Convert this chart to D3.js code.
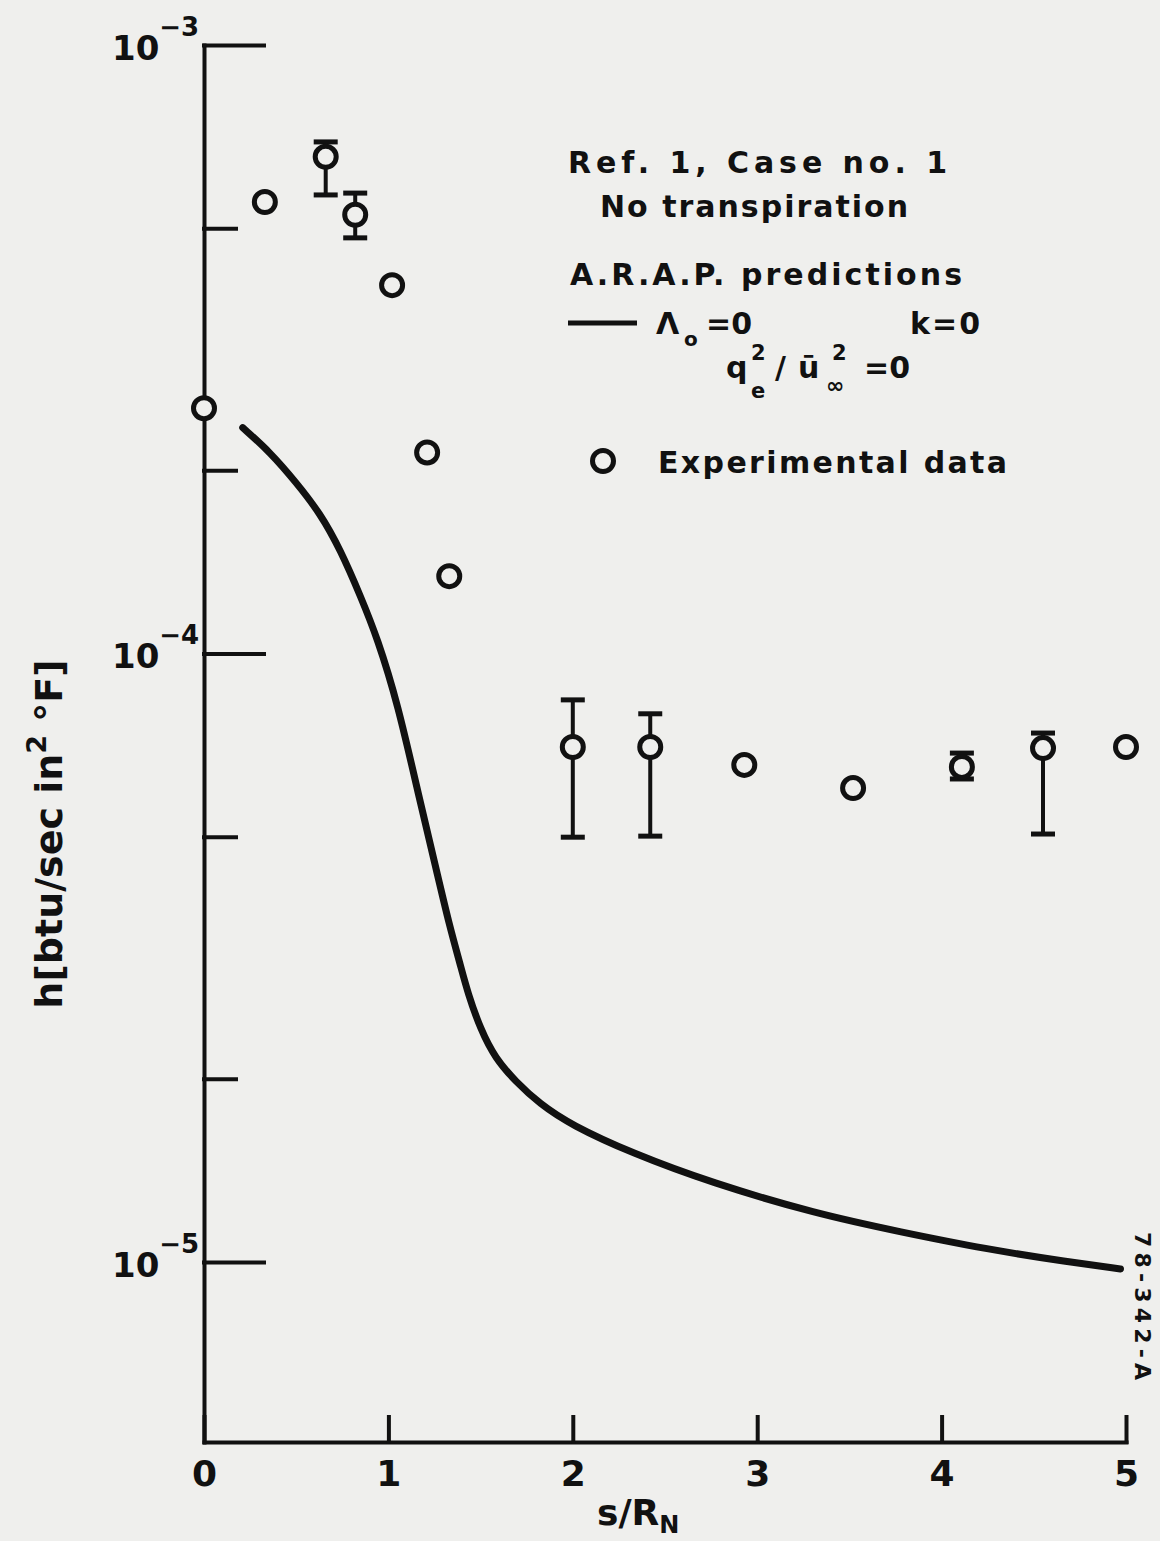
<!DOCTYPE html>
<html lang="en">
<head>
<meta charset="UTF-8">
<title>h vs s/RN - Ref. 1, Case no. 1</title>
<script src="https://d3js.org/d3.v7.min.js"></script>
<style>
  body { margin: 0; background: #efefed; }
  svg { display: block; }
  text { font-family: "DejaVu Sans", sans-serif; font-weight: bold; fill: #111; }
</style>
</head>
<body>
<script>
// experimental data (h in btu/sec in^2 F)
const expS = [0, 0.33, 0.66, 0.82, 1.02, 1.21, 1.33, 2.0, 2.42, 2.93, 3.52, 4.11, 4.55, 5.0];
const expH = [2.53e-4, 5.52e-4, 6.55e-4, 5.26e-4, 4.03e-4, 2.14e-4, 1.34e-4, 7.02e-5, 7.02e-5, 6.56e-5, 6.01e-5, 6.51e-5, 6.99e-5, 7.02e-5];

// error bars on some of the points
const errS  = [0.66, 0.82, 2.0, 2.42, 4.11, 4.55];
const errLo = [5.67e-4, 4.82e-4, 4.99e-5, 5.01e-5, 6.22e-5, 5.05e-5];
const errHi = [6.93e-4, 5.71e-4, 8.39e-5, 7.96e-5, 6.86e-5, 7.40e-5];

// A.R.A.P. prediction
const predS = [0.21, 0.36, 0.50, 0.63, 0.74, 0.85, 0.94, 1.05, 1.17, 1.26, 1.33, 1.39, 1.43, 1.50, 1.58, 1.69, 1.82, 1.99, 2.32, 2.75, 3.32, 3.78, 4.24, 4.69, 4.97];
const predH = [2.35e-4, 2.14e-4, 1.91e-4, 1.70e-4, 1.48e-4, 1.24e-4, 1.06e-4, 8.29e-5, 5.74e-5, 4.41e-5, 3.58e-5, 3.08e-5, 2.77e-5, 2.41e-5, 2.16e-5, 1.98e-5, 1.82e-5, 1.68e-5, 1.51e-5, 1.35e-5, 1.20e-5, 1.12e-5, 1.05e-5, 1.00e-5, 9.74e-6];

const xTicks = [0, 1, 2, 3, 4, 5];
const yMajor = [1e-3, 1e-4, 1e-5];
const yMajorExp = ["\u22123", "\u22124", "\u22125"];
const yMinor = [5e-4, 2e-4, 5e-5, 2e-5];

const W = 1160, H = 1541;
const ink = "#111";

const svg = d3.select("body").append("svg")
  .attr("width", W).attr("height", H);

svg.append("rect").attr("width", W).attr("height", H).attr("fill", "#efefed");

const x = d3.scaleLinear().domain([0, 5]).range([204, 1126]);
const y = d3.scaleLog().domain([5.06e-6, 1e-3]).range([1442, 45]);

// y axis: major + minor ticks pointing inward
svg.append("g").attr("transform", "translate(204,0)")
  .call(d3.axisRight(y).tickValues(yMajor).tickSizeInner(60).tickSizeOuter(0).tickFormat(""));
const yMin = svg.append("g").attr("transform", "translate(204,0)")
  .call(d3.axisRight(y).tickValues(yMinor).tickSizeInner(32).tickSizeOuter(0).tickFormat(""));
yMin.select(".domain").remove();

// x axis: ticks pointing up
const xAx = svg.append("g").attr("transform", "translate(0,1442)")
  .call(d3.axisBottom(x).tickValues(xTicks).tickSizeInner(-25).tickSizeOuter(0).tickPadding(18).tickFormat(d3.format("d")));

svg.selectAll(".domain, .tick line")
  .attr("stroke", ink).attr("stroke-width", 4).attr("stroke-linecap", "square");
xAx.selectAll(".tick text").attr("font-size", 36).attr("font-family", "DejaVu Sans").attr("font-weight", "bold").attr("fill", ink);

// y tick labels, 10^n
yMajor.forEach((v, i) => {
  const t = svg.append("text").attr("x", 112).attr("y", y(v) + 15).attr("font-size", 34);
  t.append("tspan").text("10");
  t.append("tspan").attr("dy", -24).attr("font-size", 26).text(yMajorExp[i]);
});

// axis titles
const xl = svg.append("text").attr("x", 597).attr("y", 1525).attr("font-size", 36);
xl.append("tspan").text("s/R");
xl.append("tspan").attr("dy", 8).attr("font-size", 24).text("N");

const yl = svg.append("text").attr("transform", "translate(62,834) rotate(-90)")
  .attr("text-anchor", "middle").attr("font-size", 38);
yl.append("tspan").text("h[btu/sec in");
yl.append("tspan").attr("dy", -16).attr("font-size", 27).text("2");
yl.append("tspan").attr("dy", 16).text(" \u00b0F]");

// prediction curve
const line = d3.line()
  .x((d, i) => x(predS[i]))
  .y(d => y(d))
  .curve(d3.curveBasis);
svg.append("path").datum(predH)
  .attr("d", line)
  .attr("fill", "none").attr("stroke", ink).attr("stroke-width", 7).attr("stroke-linecap", "round");

// error bars
const eb = svg.append("g").selectAll("g").data(errS).join("g");
eb.append("line")
  .attr("x1", d => x(d)).attr("x2", d => x(d))
  .attr("y1", (d, i) => y(errLo[i])).attr("y2", (d, i) => y(errHi[i]))
  .attr("stroke", ink).attr("stroke-width", 4);
eb.append("line")
  .attr("x1", d => x(d) - 12).attr("x2", d => x(d) + 12)
  .attr("y1", (d, i) => y(errLo[i])).attr("y2", (d, i) => y(errLo[i]))
  .attr("stroke", ink).attr("stroke-width", 5);
eb.append("line")
  .attr("x1", d => x(d) - 12).attr("x2", d => x(d) + 12)
  .attr("y1", (d, i) => y(errHi[i])).attr("y2", (d, i) => y(errHi[i]))
  .attr("stroke", ink).attr("stroke-width", 5);

// experimental points
svg.append("g").selectAll("circle").data(expH).join("circle")
  .attr("cx", (d, i) => x(expS[i]))
  .attr("cy", d => y(d))
  .attr("r", 10.5)
  .attr("fill", "#efefed").attr("stroke", ink).attr("stroke-width", 5);

// legend block
const lg = svg.append("g");
lg.append("text").attr("x", 568).attr("y", 173).attr("font-size", 30)
  .attr("textLength", 379).attr("lengthAdjust", "spacing").text("Ref. 1,  Case  no. 1");
lg.append("text").attr("x", 600).attr("y", 217).attr("font-size", 30)
  .attr("textLength", 308).attr("lengthAdjust", "spacing").text("No  transpiration");
lg.append("text").attr("x", 570).attr("y", 285).attr("font-size", 30)
  .attr("textLength", 392).attr("lengthAdjust", "spacing").text("A.R.A.P.  predictions");

lg.append("line").attr("x1", 568).attr("x2", 637).attr("y1", 323).attr("y2", 323)
  .attr("stroke", ink).attr("stroke-width", 5);
lg.append("text").attr("x", 656).attr("y", 334).attr("font-size", 30).text("\u039b");
lg.append("text").attr("x", 684).attr("y", 346).attr("font-size", 20).text("o");
lg.append("text").attr("x", 706).attr("y", 334).attr("font-size", 30).text("=0");
lg.append("text").attr("x", 910).attr("y", 334).attr("font-size", 30)
  .attr("textLength", 70).attr("lengthAdjust", "spacing").text("k=0");

lg.append("text").attr("x", 726).attr("y", 378).attr("font-size", 30).text("q");
lg.append("text").attr("x", 751).attr("y", 360).attr("font-size", 21).text("2");
lg.append("text").attr("x", 751).attr("y", 398).attr("font-size", 21).text("e");
lg.append("text").attr("x", 775).attr("y", 378).attr("font-size", 30).text("/");
lg.append("text").attr("x", 798).attr("y", 378).attr("font-size", 30).text("\u016b");
lg.append("text").attr("x", 832).attr("y", 360).attr("font-size", 21).text("2");
lg.append("text").attr("x", 826).attr("y", 393).attr("font-size", 22).text("\u221e");
lg.append("text").attr("x", 864).attr("y", 378).attr("font-size", 30).text("=0");

lg.append("circle").attr("cx", 603).attr("cy", 461).attr("r", 10.5)
  .attr("fill", "none").attr("stroke", ink).attr("stroke-width", 5);
lg.append("text").attr("x", 658).attr("y", 473).attr("font-size", 30)
  .attr("textLength", 349).attr("lengthAdjust", "spacing").text("Experimental  data");

// drawing number on the right edge
svg.append("text").attr("transform", "translate(1135,1232) rotate(90)")
  .attr("font-size", 22).attr("textLength", 148).attr("lengthAdjust", "spacing")
  .text("78-342-A");
</script>
</body>
</html>
